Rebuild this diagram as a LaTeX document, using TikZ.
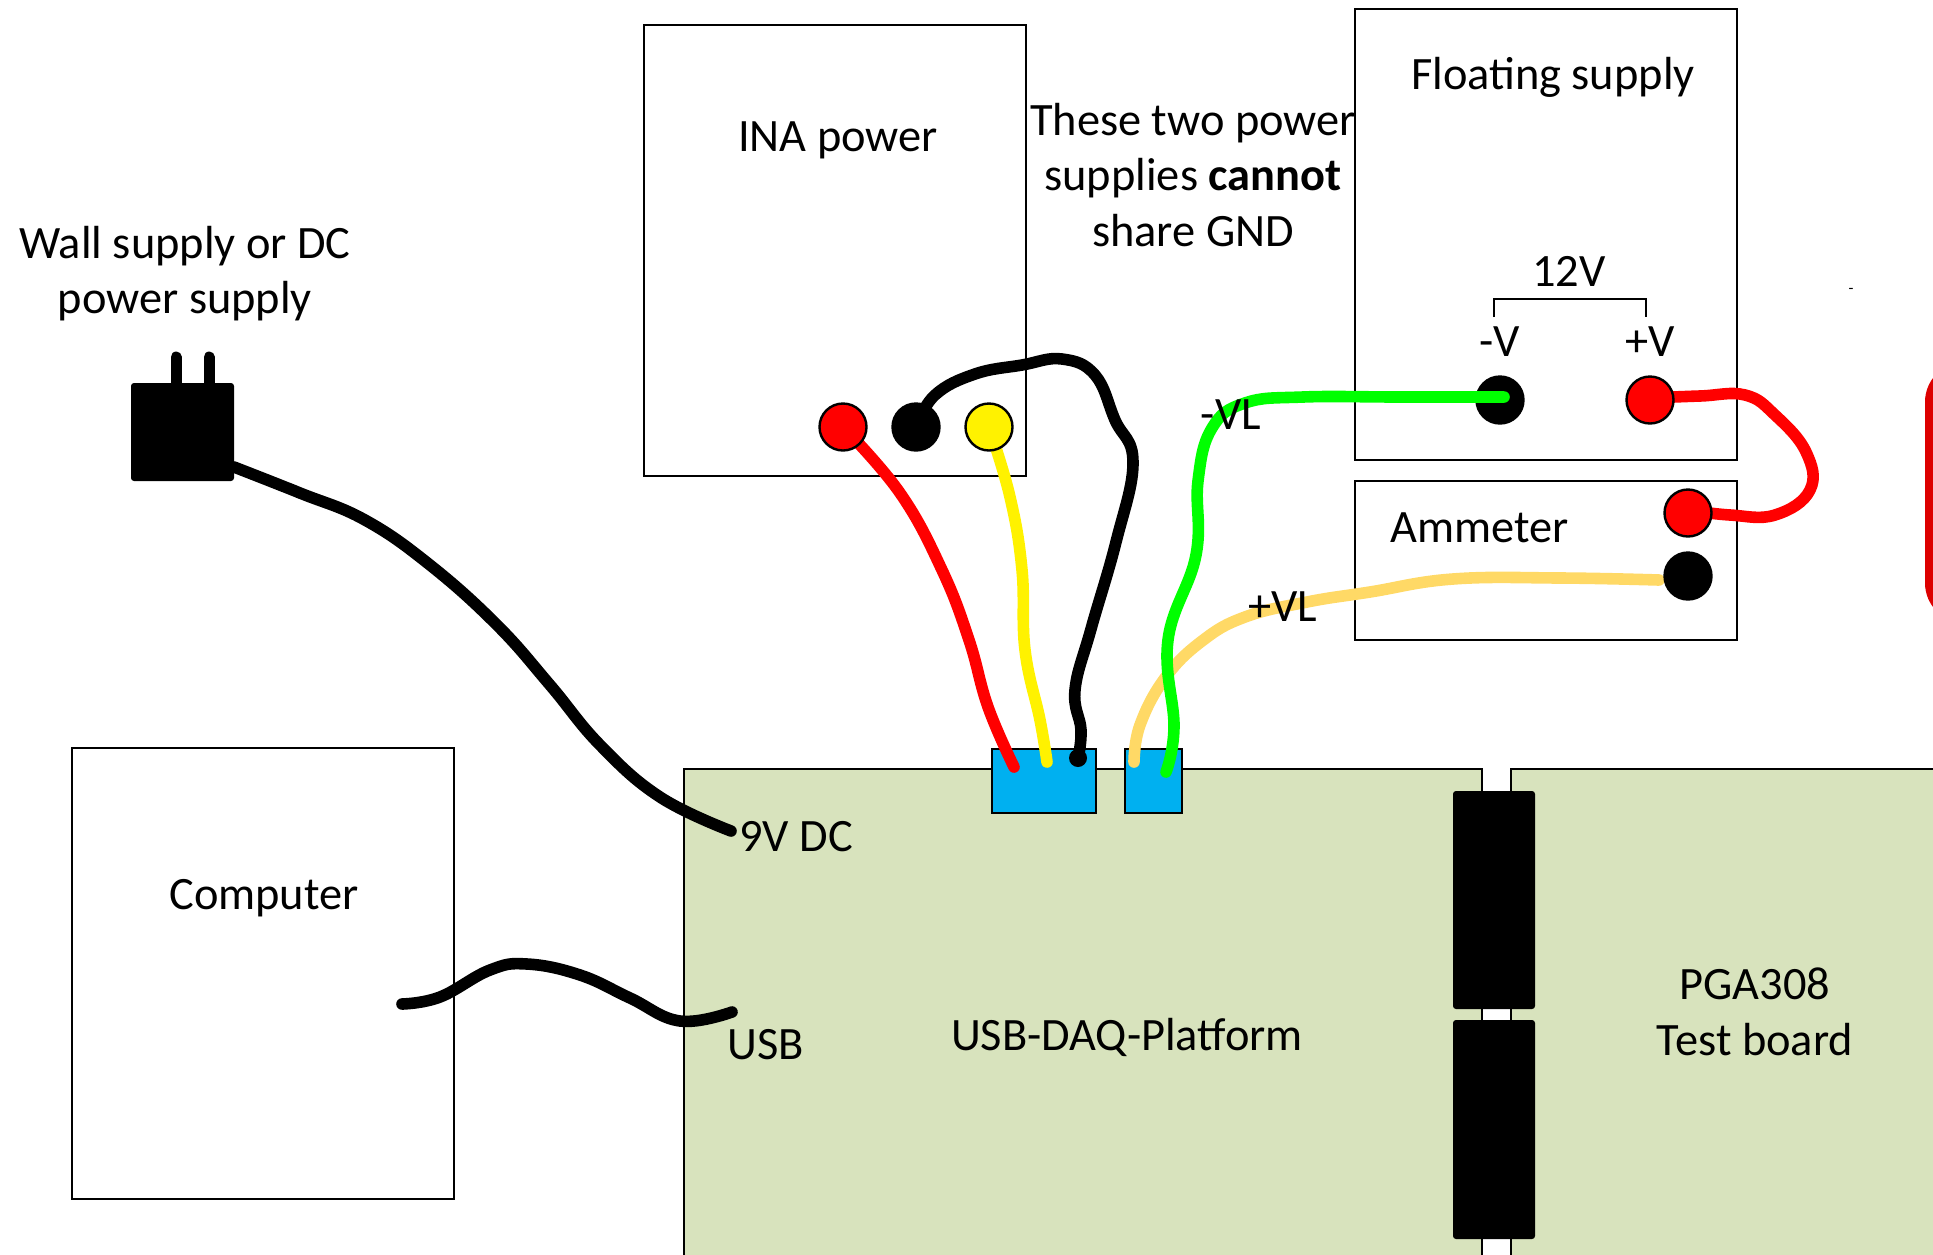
\documentclass[tikz,border=0pt]{standalone}
\usepackage{fontspec}
\setmainfont{Carlito}
\definecolor{boardgreen}{HTML}{D8E3BD}
\definecolor{headerblue}{HTML}{00B0F0}
\definecolor{vlorange}{HTML}{FFD966}
\definecolor{loadred}{HTML}{DD0000}
\begin{document}
\begin{tikzpicture}[
		x=0.5pt, y=-0.5pt,
		box/.style={draw=black, line width=1.2pt},
		board/.style={fill=boardgreen, draw=black, line width=1.2pt},
		header/.style={fill=headerblue, draw=black, line width=1.3pt},
		conn/.style={fill=black, rounded corners=1.5pt},
		wire/.style={line width=5.8pt, line cap=round, line join=round},
		term/.style={circle, draw=black, line width=1.2pt, minimum size=23.5pt, inner sep=0pt},
		label/.style={font=\fontsize{23.2}{28}\selectfont, anchor=base, inner sep=0pt, align=center}]
	\useasboundingbox (0,0) rectangle (1933,1254);

	% Boards run off the page, so clip them to the picture.
	\begin{scope}
		\clip (0,0) rectangle (1933,1254);
		\draw[board] (684,1300) -- (684,769) -- (1482,769) -- (1482,1300);
		\fill[boardgreen] (1511,770) rectangle (2000,1300);
		\draw[box] (1511,1300) -- (1511,769) -- (2000,769);
		\draw[draw=loadred, line width=5pt, rounded corners=17.5pt] (2000,367) -- (1930,367) -- (1930,618) -- (2000,618);
	\end{scope}

	% Plain boxes.
	\draw[box] (644,25) rectangle (1026,476);
	\draw[box] (1355,9) rectangle (1737,460);
	\draw[box] (1355,481) rectangle (1737,640);
	\draw[box] (72,748) rectangle (454,1199);

	% Connectors between the boards and headers on top.
	\fill[conn] (1453,791) rectangle (1535,1009);
	\fill[conn] (1453,1020) rectangle (1535,1239);
	\draw[header] (992,749) rectangle (1096,813);
	\draw[header] (1125,749) rectangle (1182,813);

	% Wall adapter.
	\fill[conn] (131,383) rectangle (234,481);
	\foreach \x in {176,209} {
		\draw[line width=5.5pt, line cap=round] (\x,357) -- (\x,390);
	}

	% Terminals on the INA supply.
	\node[term, fill=black] (inablack) at (916,427) {};
	\coordinate (dcjack) at (731,831);
	\coordinate (usbjack) at (732,1012);
	\coordinate (pinred) at (1014,767);
	\coordinate (pinyellow) at (1047,762);
	\coordinate (pinblack) at (1078,758);
	\coordinate (pinplus) at (1134,762);
	\coordinate (pinminus) at (1166,772);
	\coordinate (plugout) at (234,467);
	\coordinate (pcout) at (402,1004);

	% Cables.
	\draw[wire] plot[smooth, tension=0.7] coordinates {(plugout) (300,493) (365,520) (430,565) (497,625) (550,685) (600,745) (660,797) (dcjack)};
	\draw[wire] plot[smooth, tension=0.7] coordinates {(pcout) (440,997) (490,970) (527,964) (580,975) (630,998) (680,1021) (usbjack)};
	\draw[wire, red] plot[smooth, tension=0.7] coordinates {(843,427) (900,493) (942,570) (969,640) (988,707) (pinred)};
	\draw[wire, yellow] plot[smooth, tension=0.7] coordinates {(989,427) (1010,497) (1022,570) (1025,650) (1040,720) (pinyellow)};
	\draw[wire] plot[smooth, tension=0.7] coordinates {(inablack.center) (935,395) (975,374) (1022,365) (1062,359) (1095,375) (1115,420) (1133,462) (1116,542) (1091,629) (1075,690) (1081,730) (pinblack)};
	\fill (pinblack) circle (9);
	\draw[wire, vlorange] plot[smooth, tension=0.7] coordinates {(1659,580) (1560,578) (1453,579) (1370,592) (1307,602) (1245,617) (1202,641) (1165,678) (1140,725) (pinplus)};

	% Terminals sit over the ends of their wires, except floating -V.
	\node[term, fill=red] (inared) at (843,427) {};
	\node[term, fill=yellow] (inayellow) at (989,427) {};
	\node[term, fill=black] (floatblack) at (1500,400) {};
	\node[term, fill=black] (ampblack) at (1688,576) {};
	\draw[wire, red] plot[smooth, tension=0.7] coordinates {(1650,398) (1700,396) (1745,395) (1775,415) (1806,452) (1810,490) (1775,515) (1730,515) (1688,510)};
	\node[term, fill=red] (floatred) at (1650,400) {};
	\node[term, fill=red] (ampred) at (1688,513) {};
	\draw[wire, green] plot[smooth, tension=0.7] coordinates {(1504,397) (1400,397) (1303,397) (1245,403) (1212,428) (1198,481) (1196,555) (1168,640) (1174,727) (pinminus)};

	% Bracket over the floating outputs.
	\draw[line width=1.1pt] (1494,317) -- (1494,299) -- (1646,299) -- (1646,317);

	% Labels.
	\node[label] (inatext) at (838,151) {INA power};
	\node[label] (floattext) at (1553,89) {Floating supply};
	\node[label] (twelve) at (1569,286) {12V};
	\node[label] (minusv) at (1500,356) {-V};
	\node[label] (plusv) at (1650,356) {+V};
	\node[label] (ammtext) at (1480,542) {Ammeter};
	\node[label] (pctext) at (264,909) {Computer};
	\node[label] (noteone) at (1193,135) {These two power};
	\node[label] (notetwo) at (1193,190) {supplies \textbf{cannot}};
	\node[label] (notethree) at (1193,246) {share GND};
	\node[label] (wallone) at (185,258) {Wall supply or DC};
	\node[label] (walltwo) at (185,313) {power supply};
	\node[label] (minusvl) at (1231,429) {-VL};
	\node[label] (plusvl) at (1283,621) {+VL};
	\node[label] (dctext) at (796,851) {9V DC};
	\node[label] (usbtext) at (766,1059) {USB};
	\node[label] (daqtext) at (1127,1050) {USB-DAQ-Platform};
	\node[label] (pgaone) at (1755,999) {PGA308};
	\node[label] (pgatwo) at (1755,1055) {Test board};
	\node[label, font=\fontsize{8}{10}\selectfont] (stray) at (1851,293) {-};
\end{tikzpicture}
\end{document}
